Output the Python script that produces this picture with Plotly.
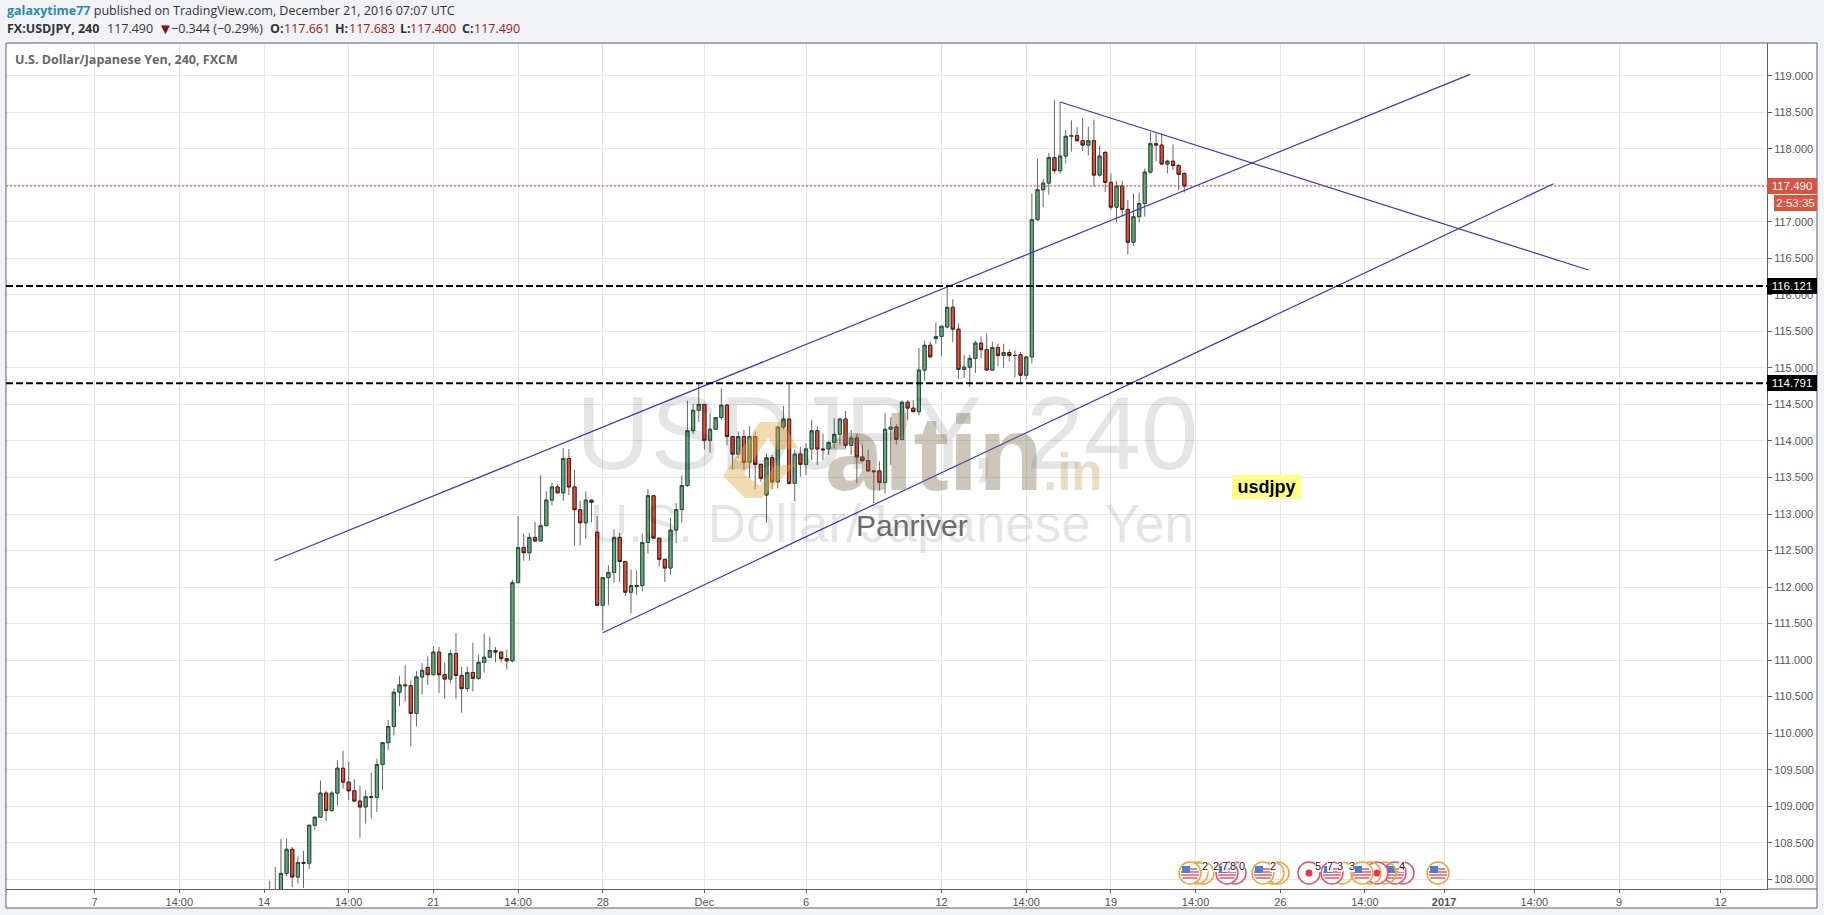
import plotly.graph_objects as go

open_ = [107.60,107.70,107.80,108.08,108.41,108.03,108.23,108.22,108.74,108.85,
 109.18,108.94,109.18,109.52,109.33,109.21,109.07,108.99,109.13,109.12,
 109.57,109.87,110.09,110.56,110.66,110.65,110.27,110.77,110.90,110.80,
 111.11,110.80,110.74,111.09,110.79,110.61,110.83,110.75,110.97,111.04,
 111.13,111.11,111.02,110.99,112.06,112.54,112.47,112.68,112.63,112.84,
 113.19,113.37,113.29,113.76,113.37,113.06,112.88,113.19,112.75,111.75,
 112.13,112.20,112.68,112.35,111.93,112.02,112.02,112.61,113.25,112.67,
 112.38,112.26,112.78,113.06,113.39,114.14,114.42,114.50,114.01,114.16,
 114.32,114.49,114.06,113.82,114.06,113.71,114.06,113.68,113.26,113.77,
 113.44,114.19,114.30,113.42,113.82,113.68,113.89,114.14,113.89,113.89,
 113.98,114.09,114.30,113.94,114.04,113.78,113.73,113.59,113.59,113.43,
 114.16,114.19,114.02,114.53,114.45,114.40,114.97,115.31,115.40,115.43,
 115.56,115.83,115.53,114.98,115.01,115.13,115.34,115.25,114.97,115.28,
 115.17,115.21,115.17,115.18,114.90,115.15,117.03,117.44,117.53,117.88,
 117.70,117.90,118.17,118.18,118.11,118.05,118.11,117.64,117.95,117.54,
 117.20,117.49,117.17,116.72,117.07,117.25,117.68,118.07,118.05,117.79,
 117.83,117.77,117.661]
high = [107.98,108.17,108.55,108.55,108.44,108.31,108.39,108.74,108.85,109.35,
 109.21,109.21,109.63,109.76,109.61,109.37,109.28,109.22,109.46,109.65,
 109.87,110.18,110.61,110.78,110.93,110.72,110.85,110.96,111.05,111.19,
 111.18,110.96,111.14,111.37,110.91,110.91,111.24,111.07,111.36,111.32,
 111.18,111.11,111.14,112.10,112.97,112.73,112.74,112.89,113.53,113.31,
 113.43,113.41,113.90,113.89,113.60,113.18,113.31,113.19,112.97,112.13,
 112.30,112.79,112.74,112.35,112.24,112.23,112.73,113.34,113.25,112.67,
 112.38,112.95,113.15,113.53,114.55,114.51,114.81,114.50,114.38,114.32,
 114.72,114.51,114.06,114.13,114.15,114.20,114.13,113.68,113.83,113.81,
 114.19,114.48,114.78,113.88,113.92,113.97,114.29,114.20,114.10,113.99,
 114.31,114.31,114.41,114.15,114.10,113.94,113.88,113.60,113.72,114.38,
 114.32,114.23,114.55,114.56,114.56,115.27,115.37,115.36,115.62,115.57,
 116.12,115.94,115.61,115.18,115.18,115.37,115.43,115.47,115.36,115.33,
 115.33,115.25,115.24,115.22,115.16,117.39,117.86,117.59,117.94,118.67,
 118.64,118.26,118.39,118.30,118.42,118.30,118.40,118.04,117.97,117.66,
 117.56,117.56,117.30,117.39,117.40,117.73,118.23,118.21,118.21,117.85,
 118.06,117.79,117.683]
low = [107.50,107.60,107.70,108.04,107.89,107.94,107.88,108.14,108.68,108.85,
 108.80,108.92,109.01,109.24,109.08,109.07,108.57,108.76,108.83,108.92,
 109.22,109.77,109.97,110.37,110.43,109.82,110.09,110.53,110.66,110.80,
 110.55,110.47,110.68,110.47,110.28,110.57,110.57,110.73,110.83,111.03,
 110.97,110.97,110.87,110.97,112.06,112.36,112.36,112.63,112.63,112.84,
 113.12,113.28,113.18,113.26,112.57,112.57,112.66,112.89,111.75,111.41,
 111.75,112.06,112.07,111.88,111.64,111.89,111.94,112.46,112.67,112.28,
 112.07,112.17,112.60,112.88,113.37,114.10,114.26,113.88,113.84,114.15,
 114.29,113.94,113.60,113.76,113.60,113.49,113.34,113.44,112.88,113.34,
 113.35,114.16,113.40,113.17,113.51,113.53,113.74,113.67,113.74,113.81,
 113.90,113.95,113.90,113.81,113.42,113.72,113.58,113.15,113.32,113.28,
 113.67,113.95,114.01,114.29,114.40,114.35,114.83,115.15,115.33,115.16,
 115.54,115.35,114.85,114.86,114.74,114.93,115.13,114.97,114.96,115.02,
 115.00,115.09,114.87,114.80,114.84,115.06,117.01,117.20,117.37,117.66,
 117.66,117.80,117.96,118.10,117.97,117.91,117.48,117.62,117.41,117.16,
 116.99,117.07,116.55,116.67,116.99,117.07,117.66,117.83,117.78,117.66,
 117.71,117.43,117.40]
close = [107.70,107.85,108.08,108.41,108.03,108.23,108.22,108.74,108.85,109.18,
 108.94,109.18,109.52,109.33,109.21,109.07,108.99,109.13,109.12,109.57,
 109.87,110.09,110.56,110.66,110.65,110.27,110.77,110.86,110.80,111.11,
 110.80,110.74,111.09,110.79,110.61,110.83,110.75,110.97,111.04,111.13,
 111.11,111.02,110.99,112.06,112.54,112.47,112.68,112.63,112.84,113.19,
 113.37,113.29,113.76,113.37,113.06,112.88,113.19,113.16,111.75,112.13,
 112.20,112.68,112.35,111.93,112.02,112.01,112.61,113.25,112.67,112.38,
 112.26,112.78,113.06,113.39,114.14,114.42,114.50,114.01,114.16,114.32,
 114.49,114.06,113.82,114.06,113.71,114.06,113.68,113.49,113.77,113.44,
 114.19,114.30,113.42,113.82,113.68,113.89,114.14,113.89,113.88,113.98,
 114.09,114.30,113.94,114.04,113.78,113.73,113.59,113.58,113.43,114.16,
 114.19,114.02,114.53,114.45,114.40,114.97,115.31,115.15,115.43,115.57,
 115.83,115.53,114.98,115.01,115.13,115.34,115.25,114.97,115.28,115.17,
 115.21,115.17,115.17,114.90,115.15,117.03,117.44,117.53,117.88,117.70,
 117.90,118.17,118.18,118.11,118.05,118.11,117.64,117.90,117.54,117.20,
 117.49,117.17,116.72,117.07,117.25,117.68,118.07,118.05,117.79,117.83,
 117.77,117.65,117.49]
bar_index = list(range(1, len(close) + 1))

x_tick_vals = [-30,-15,0,15,30,45,60,78,96,120,135,150,165,180,195,209,225,240,258]
x_tick_text = ["7","14:00","14","14:00","21","14:00","28","Dec","6","12","14:00","19","14:00","26","14:00","<b>2017</b>","14:00","9","12"]
y_tick_vals = [108+0.5*k for k in range(23)]

upper_channel_x, upper_channel_y = [1.86, 213.6], [112.363, 119.018]
lower_channel_x, lower_channel_y = [60, 228.4], [111.375, 117.52]
falling_line_x, falling_line_y = [141, 234.6], [118.64, 116.34]
levels = [116.121, 114.791]
last_price = 117.490

W, H = 1824, 915
L, R, T, B = 6, 1767, 43, 889
def px(x): return (x - L) / (R - L)
def py(y): return (B - y) / (B - T)

X0, XS = 264, 5.646
Y0, YS = 75.7, 73.05
x_range = [(L - X0) / XS, (R - X0) / XS]
y_range = [119 - (B - Y0) / YS, 119 - (T - Y0) / YS]

fig = go.Figure()
fig.add_trace(go.Candlestick(x=bar_index, open=open_, high=high, low=low, close=close,
    increasing=dict(line=dict(color="#666668", width=1), fillcolor="#666668"),
    decreasing=dict(line=dict(color="#666668", width=1), fillcolor="#666668"),
    hoverinfo="skip", showlegend=False))
fig.add_trace(go.Candlestick(x=bar_index, open=open_, close=close,
    high=[max(a, b) for a, b in zip(open_, close)],
    low=[min(a, b) for a, b in zip(open_, close)],
    increasing=dict(line=dict(color="#225437", width=1), fillcolor="#6ba583"),
    decreasing=dict(line=dict(color="#5b1a13", width=1), fillcolor="#d75442"),
    hoverinfo="skip", showlegend=False))
for xs, ys in [(upper_channel_x, upper_channel_y), (lower_channel_x, lower_channel_y), (falling_line_x, falling_line_y)]:
    fig.add_trace(go.Scatter(x=xs, y=ys, mode="lines", line=dict(color="#3636c8", width=1.2),
                             hoverinfo="skip", showlegend=False))

shapes = []
def rect(x0, y0, x1, y1, fill=None, line=None, layer="above", lw=1):
    shapes.append(dict(type="rect", xref="paper", yref="paper", x0=px(x0), x1=px(x1), y0=py(y0), y1=py(y1),
                       fillcolor=fill or "rgba(0,0,0,0)", line=dict(color=line or "rgba(0,0,0,0)", width=lw if line else 0), layer=layer))
def seg(x0, y0, x1, y1, color, lw=1, layer="above"):
    shapes.append(dict(type="line", xref="paper", yref="paper", x0=px(x0), x1=px(x1), y0=py(y0), y1=py(y1),
                       line=dict(color=color, width=lw), layer=layer))
def circ(cx, cy, r, fill=None, line=None, lw=1.5):
    shapes.append(dict(type="circle", xref="paper", yref="paper", x0=px(cx-r), x1=px(cx+r), y0=py(cy-r), y1=py(cy+r),
                       fillcolor=fill or "rgba(0,0,0,0)", line=dict(color=line or "rgba(0,0,0,0)", width=lw if line else 0)))

rect(6, 43, 1817, 908, fill="white", layer="below")
rect(6, 43, 1817, 908, line="#5d606b")
seg(1767, 889, 1817, 889, "#5d606b")

for lv in levels:
    shapes.append(dict(type="line", xref="paper", yref="y", x0=0, x1=1, y0=lv, y1=lv,
                       line=dict(color="#000000", width=2, dash="7px,3px")))
shapes.append(dict(type="line", xref="paper", yref="y", x0=0, x1=1, y0=last_price, y1=last_price,
                   line=dict(color="#d8402f", width=1, dash="2px,2px")))

# logo mark (two chevrons forming a diamond)
def path(points):
    return "M" + " L".join(f"{px(a):.5f},{py(b):.5f}" for a, b in points) + " Z"
logo_upper = path([(723,476),(760,422),(782,422),(798,448),(776,450),(768,438),(744,474)])
logo_lower = path([(723,476),(744,474),(760,486),(774,466),(796,464),(762,498),(745,498)])
for pth in (logo_upper, logo_lower):
    shapes.append(dict(type="path", xref="paper", yref="paper", path=pth,
                       fillcolor="rgba(226,170,70,0.42)", line=dict(width=0), layer="above"))

# event flags along the bottom
CY = 873
ORANGE, PINK = "#f0a33a", "#ea4f68"
events = [(1403,PINK,"ring"),(1395,PINK,"flag"),(1385,ORANGE,"ring"),(1377,PINK,"dot"),(1370,ORANGE,"ring"),(1362,ORANGE,"flag"),
          (1342,ORANGE,"ring"),(1332,PINK,"flag"),(1309,PINK,"dot"),(1278,ORANGE,"ring"),(1273,ORANGE,"ring"),(1263,ORANGE,"flag"),
          (1235,PINK,"ring"),(1227,PINK,"flag"),(1203,ORANGE,"ring"),(1197,ORANGE,"ring"),(1190,ORANGE,"flag"),(1438,ORANGE,"flag")]
for ex, col, kind in events:
    if kind == "ring":
        circ(ex, CY, 11, line=col)
        continue
    circ(ex, CY, 11, fill="white", line=col)
    if kind == "dot":
        circ(ex, CY, 3.5, fill="#e8354f")
    else:
        for dy, hw in [(-4, 7), (-1, 9), (2, 9), (5, 7.5)]:
            seg(ex-hw, CY+dy, ex+hw, CY+dy, "#e4636f", 1.6)
        rect(ex-8, CY-7, ex, CY, fill="#4a7fd6")

ann = []
def text(x, y, s, size=12.5, color="#333", family="Open Sans", anchor="left", **kw):
    ann.append(dict(xref="paper", yref="paper", x=px(x), y=py(y), text=s, showarrow=False, xanchor=anchor, yanchor="middle",
                    font=dict(family=family, size=size, color=color), borderpad=0, borderwidth=0, **kw))

text(7, 11, '<b><span style="color:#2a89b5">galaxytime77</span></b> published on TradingView.com, December 21, 2016 07:07 UTC')
text(7, 28, "<b>FX:USDJPY, 240</b>")
text(107, 28, "117.490")
text(158, 28, "▼", size=15, color="#8b0f0f")
text(171, 28, "−0.344 (−0.29%)")
for lx, lab, vx, val in [(270,"O:",284,"117.661"),(335,"H:",349,"117.683"),(400,"L:",410,"117.400"),(462,"C:",474,"117.490")]:
    text(lx, 28, f"<b>{lab}</b>")
    text(vx, 28, val, color="#a01818")
text(15, 60, "<b>U.S. Dollar/Japanese Yen, 240, FXCM</b>", size=12.5, color="#666")

text(887, 433, "USDJPY, 240", size=103, color="rgba(0,0,0,0.10)", family="Liberation Sans", anchor="center")
text(892, 523, "U.S. Dollar/Japanese Yen", size=53, color="rgba(0,0,0,0.10)", family="Liberation Sans", anchor="center")
text(825, 453, "<b>altin</b>", size=106, color="rgba(120,105,75,0.38)", family="Liberation Sans")
text(1043, 472, "<b>.in</b>", size=51, color="rgba(190,160,100,0.36)", family="Liberation Sans")
text(912, 525, "Panriver", size=30, color="#6a6a6a", family="Liberation Sans", anchor="center")
text(1266.5, 487, "<b>usdjpy</b>", size=18, color="#000", family="Liberation Sans", anchor="center",
     bgcolor="#ffff88", width=69, height=24)

for ntx, s in [(1205,"2"),(1216,"2"),(1225,"7"),(1233,"8"),(1242,"0"),(1273,"2"),(1318,"5"),(1330,"7"),(1340,"3"),(1352,"3"),(1402,"4")]:
    text(ntx, 866, s, size=11, color="#222", family="Liberation Sans", anchor="center", bgcolor="rgba(255,255,255,0.85)")

def tag(value, s, bg, x0=1767):
    ann.append(dict(xref="paper", yref="y", x=px(x0), y=value, text=s, showarrow=False, xanchor="left", yanchor="middle",
                    align="center", width=1817-x0, height=16, bgcolor=bg, borderpad=0, borderwidth=0,
                    font=dict(family="Liberation Sans", size=11.5, color="white")))
tag(116.121, "116.121", "#000000")
tag(114.791, "114.791", "#000000")
tag(last_price, "117.490", "#d75442")
ann.append(dict(xref="paper", yref="paper", x=px(1774), y=py(203), text="2:53:35", showarrow=False, xanchor="left", yanchor="middle",
                width=43, height=16, bgcolor="#d75442", borderpad=0, borderwidth=0, align="center",
                font=dict(family="Liberation Sans", size=11.5, color="white")))

fig.update_layout(
    width=W, height=H, autosize=False,
    margin=dict(l=L, r=W-R, t=T, b=H-B),
    paper_bgcolor="#f1f3f6", plot_bgcolor="white",
    showlegend=False, boxgap=0.2, hovermode=False,
    shapes=shapes, annotations=ann,
    xaxis=dict(range=x_range, rangeslider=dict(visible=False), tickmode="array", tickvals=x_tick_vals, ticktext=x_tick_text,
               showgrid=True, gridcolor="#e6e6e6", gridwidth=1, zeroline=False, showline=True, linecolor="#5d606b", linewidth=1,
               ticks="outside", ticklen=3, tickcolor="#5d606b",
               tickfont=dict(family="Liberation Sans", size=11, color="#555")),
    yaxis=dict(range=y_range, side="right", tickmode="array", tickvals=y_tick_vals, tickformat=".3f",
               showgrid=True, gridcolor="#e6e6e6", gridwidth=1, zeroline=False, showline=True, linecolor="#5d606b", linewidth=1,
               ticks="outside", ticklen=4, tickcolor="#5d606b",
               tickfont=dict(family="Liberation Sans", size=11, color="#555")),
)
fig.write_html("out.html", config=dict(displayModeBar=False),
               post_script="document.body.style.margin='0';document.documentElement.style.background='#f1f3f6';")
